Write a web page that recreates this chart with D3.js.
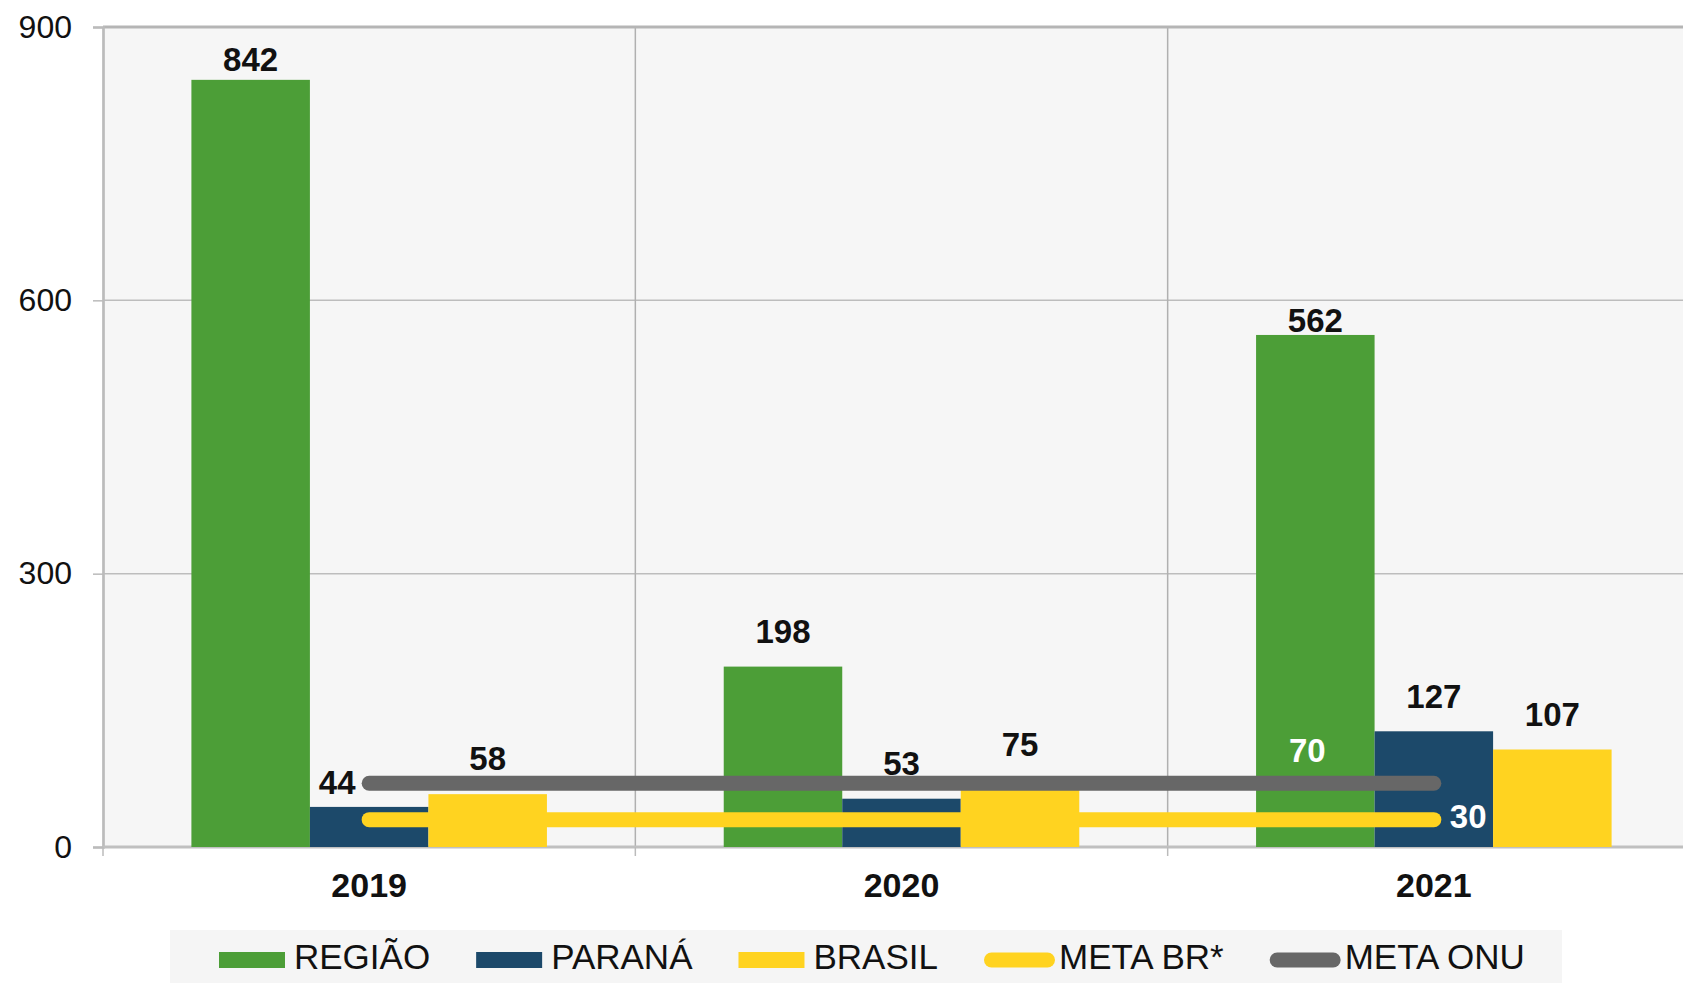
<!DOCTYPE html>
<html>
<head>
<meta charset="utf-8">
<script src="https://cdn.jsdelivr.net/npm/d3@7"></script>
<style>
  body { margin: 0; background: #ffffff; }
  svg { display: block; font-family: "Liberation Sans", Arial, sans-serif; }
</style>
</head>
<body>
<svg id="my_container" width="1683" height="983"></svg>
<script>
// data
var years = ["2019", "2020", "2021"];
var regiao = [842, 198, 562];
var parana = [44, 53, 127];
var brasil = [58, 75, 107];
var metaBR = [30, 30, 30];
var metaONU = [70, 70, 70];
var yTicks = [0, 300, 600, 900];

var barSeries = [
    {name: "REGIÃO", values: regiao, color: "#4c9e37", lift: [9, 24, 3], shift: [0, 0, 0]},
    {name: "PARANÁ", values: parana, color: "#1c496a", lift: [13, 24, 23], shift: [-32, 0, 0]},
    {name: "BRASIL", values: brasil, color: "#ffd320", lift: [24, 23, 24], shift: [0, 0, 0]}
];
var lineSeries = [
    {name: "META BR*", values: metaBR, color: "#ffd320"},
    {name: "META ONU", values: metaONU, color: "#676767"}
];

var svg = d3.select("#my_container");
var plotLeft = 103, plotTop = 27, plotRight = 1700, plotBottom = 847;
var gap = 88.4;

var x0 = d3.scaleBand().domain(years).range([plotLeft, plotRight]).padding(0);
var x1 = d3.scaleBand().domain(barSeries.map(function(s){ return s.name; }))
            .range([gap, x0.bandwidth() - gap]).padding(0);
var y = d3.scaleLinear().domain([0, 900]).range([plotBottom, plotTop]);

// plot background
svg.append("rect")
    .attr("x", plotLeft).attr("y", plotTop)
    .attr("width", plotRight - plotLeft).attr("height", plotBottom - plotTop)
    .attr("fill", "#f6f6f6");

// horizontal grid
svg.append("g").selectAll("line")
    .data(yTicks.filter(function(d){ return d > 0 && d < 900; }))
    .enter().append("line")
    .attr("x1", plotLeft).attr("x2", plotRight)
    .attr("y1", function(d){ return y(d); }).attr("y2", function(d){ return y(d); })
    .attr("stroke", "#bdbdbd").attr("stroke-width", 1.5);

// vertical grid between years
svg.append("g").selectAll("line")
    .data(years.slice(1))
    .enter().append("line")
    .attr("x1", function(d){ return x0(d); }).attr("x2", function(d){ return x0(d); })
    .attr("y1", plotTop).attr("y2", plotBottom)
    .attr("stroke", "#b0b0b0").attr("stroke-width", 1.5);

// top border
svg.append("line")
    .attr("x1", plotLeft).attr("x2", plotRight).attr("y1", plotTop).attr("y2", plotTop)
    .attr("stroke", "#b5b5b5").attr("stroke-width", 3);

// y axis
var yAxis = svg.append("g")
    .attr("transform", "translate(" + plotLeft + ",0)")
    .call(d3.axisLeft(y).tickValues(yTicks).tickSize(10).tickPadding(21));
yAxis.select(".domain").attr("stroke", "#bbbbbb").attr("stroke-width", 2.7);
yAxis.selectAll(".tick line").attr("stroke", "#bbbbbb").attr("stroke-width", 1.5);
yAxis.selectAll(".tick text")
    .attr("font-size", "32px").attr("fill", "#111")
    .attr("font-family", "Liberation Sans, Arial, sans-serif");

// x axis line and ticks at year boundaries
svg.append("line")
    .attr("x1", plotLeft).attr("x2", plotRight).attr("y1", plotBottom).attr("y2", plotBottom)
    .attr("stroke", "#c0c0c0").attr("stroke-width", 3);
svg.append("g").selectAll("line")
    .data(years)
    .enter().append("line")
    .attr("x1", function(d){ return x0(d); }).attr("x2", function(d){ return x0(d); })
    .attr("y1", plotBottom).attr("y2", plotBottom + 9)
    .attr("stroke", "#bbbbbb").attr("stroke-width", 1.5);

var xAxis = svg.append("g")
    .attr("transform", "translate(0," + plotBottom + ")")
    .call(d3.axisBottom(x0).tickSize(0).tickPadding(26));
xAxis.select(".domain").remove();
xAxis.selectAll(".tick text")
    .attr("font-size", "34px").attr("font-weight", "bold").attr("fill", "#111")
    .attr("font-family", "Liberation Sans, Arial, sans-serif");

// bars
barSeries.forEach(function(s){
    svg.append("g").selectAll("rect")
        .data(s.values)
        .enter().append("rect")
        .attr("x", function(d, i){ return x0(years[i]) + x1(s.name); })
        .attr("y", function(d){ return y(d); })
        .attr("width", x1.bandwidth())
        .attr("height", function(d){ return y(0) - y(d); })
        .attr("fill", s.color);
});

// target lines
var line = d3.line()
    .x(function(d, i){ return x0(years[i]) + x0.bandwidth() / 2; })
    .y(function(d){ return y(d); });

lineSeries.forEach(function(s){
    svg.append("path")
        .datum(s.values)
        .attr("d", line)
        .attr("fill", "none")
        .attr("stroke", s.color)
        .attr("stroke-width", 15)
        .attr("stroke-linecap", "round");
});

// bar labels
barSeries.forEach(function(s){
    svg.append("g").selectAll("text")
        .data(s.values)
        .enter().append("text")
        .attr("x", function(d, i){ return x0(years[i]) + x1(s.name) + x1.bandwidth() / 2 + s.shift[i]; })
        .attr("y", function(d, i){ return y(d) - s.lift[i]; })
        .attr("text-anchor", "middle")
        .attr("font-size", "33px").attr("font-weight", "bold").attr("fill", "#111")
        .text(function(d){ return d; });
});

// labels of the target lines (white)
svg.append("text")
    .attr("x", x0(years[2]) + x1("REGIÃO") + x1.bandwidth() / 2 - 8)
    .attr("y", y(metaONU[2]) - 21)
    .attr("text-anchor", "middle")
    .attr("font-size", "33px").attr("font-weight", "bold").attr("fill", "#ffffff")
    .text(metaONU[2]);
svg.append("text")
    .attr("x", x0(years[2]) + x0.bandwidth() / 2 + 16)
    .attr("y", y(metaBR[2]) + 8)
    .attr("text-anchor", "start")
    .attr("font-size", "33px").attr("font-weight", "bold").attr("fill", "#ffffff")
    .text(metaBR[2]);

// legend
svg.append("rect")
    .attr("x", 170).attr("y", 930)
    .attr("width", 1392).attr("height", 53)
    .attr("fill", "#f5f5f5");

var legendItems = barSeries.map(function(s){ return {name: s.name, color: s.color, kind: "bar"}; })
    .concat(lineSeries.map(function(s){ return {name: s.name, color: s.color, kind: "line"}; }));

var lx = 219;
var legendY = 960;
legendItems.forEach(function(item){
    if (item.kind == "bar") {
        svg.append("rect")
            .attr("x", lx).attr("y", legendY - 8)
            .attr("width", 66).attr("height", 16)
            .attr("fill", item.color);
    } else {
        svg.append("line")
            .attr("x1", lx + 7.5).attr("x2", lx + 71 - 7.5)
            .attr("y1", legendY).attr("y2", legendY)
            .attr("stroke", item.color).attr("stroke-width", 15)
            .attr("stroke-linecap", "round");
    }
    var t = svg.append("text")
        .attr("x", lx + (item.kind == "bar" ? 75 : 75))
        .attr("y", legendY + 9)
        .attr("font-size", "35px").attr("fill", "#111")
        .text(item.name);
    lx = lx + 75 + t.node().getComputedTextLength() + 46;
});
</script>
</body>
</html>
